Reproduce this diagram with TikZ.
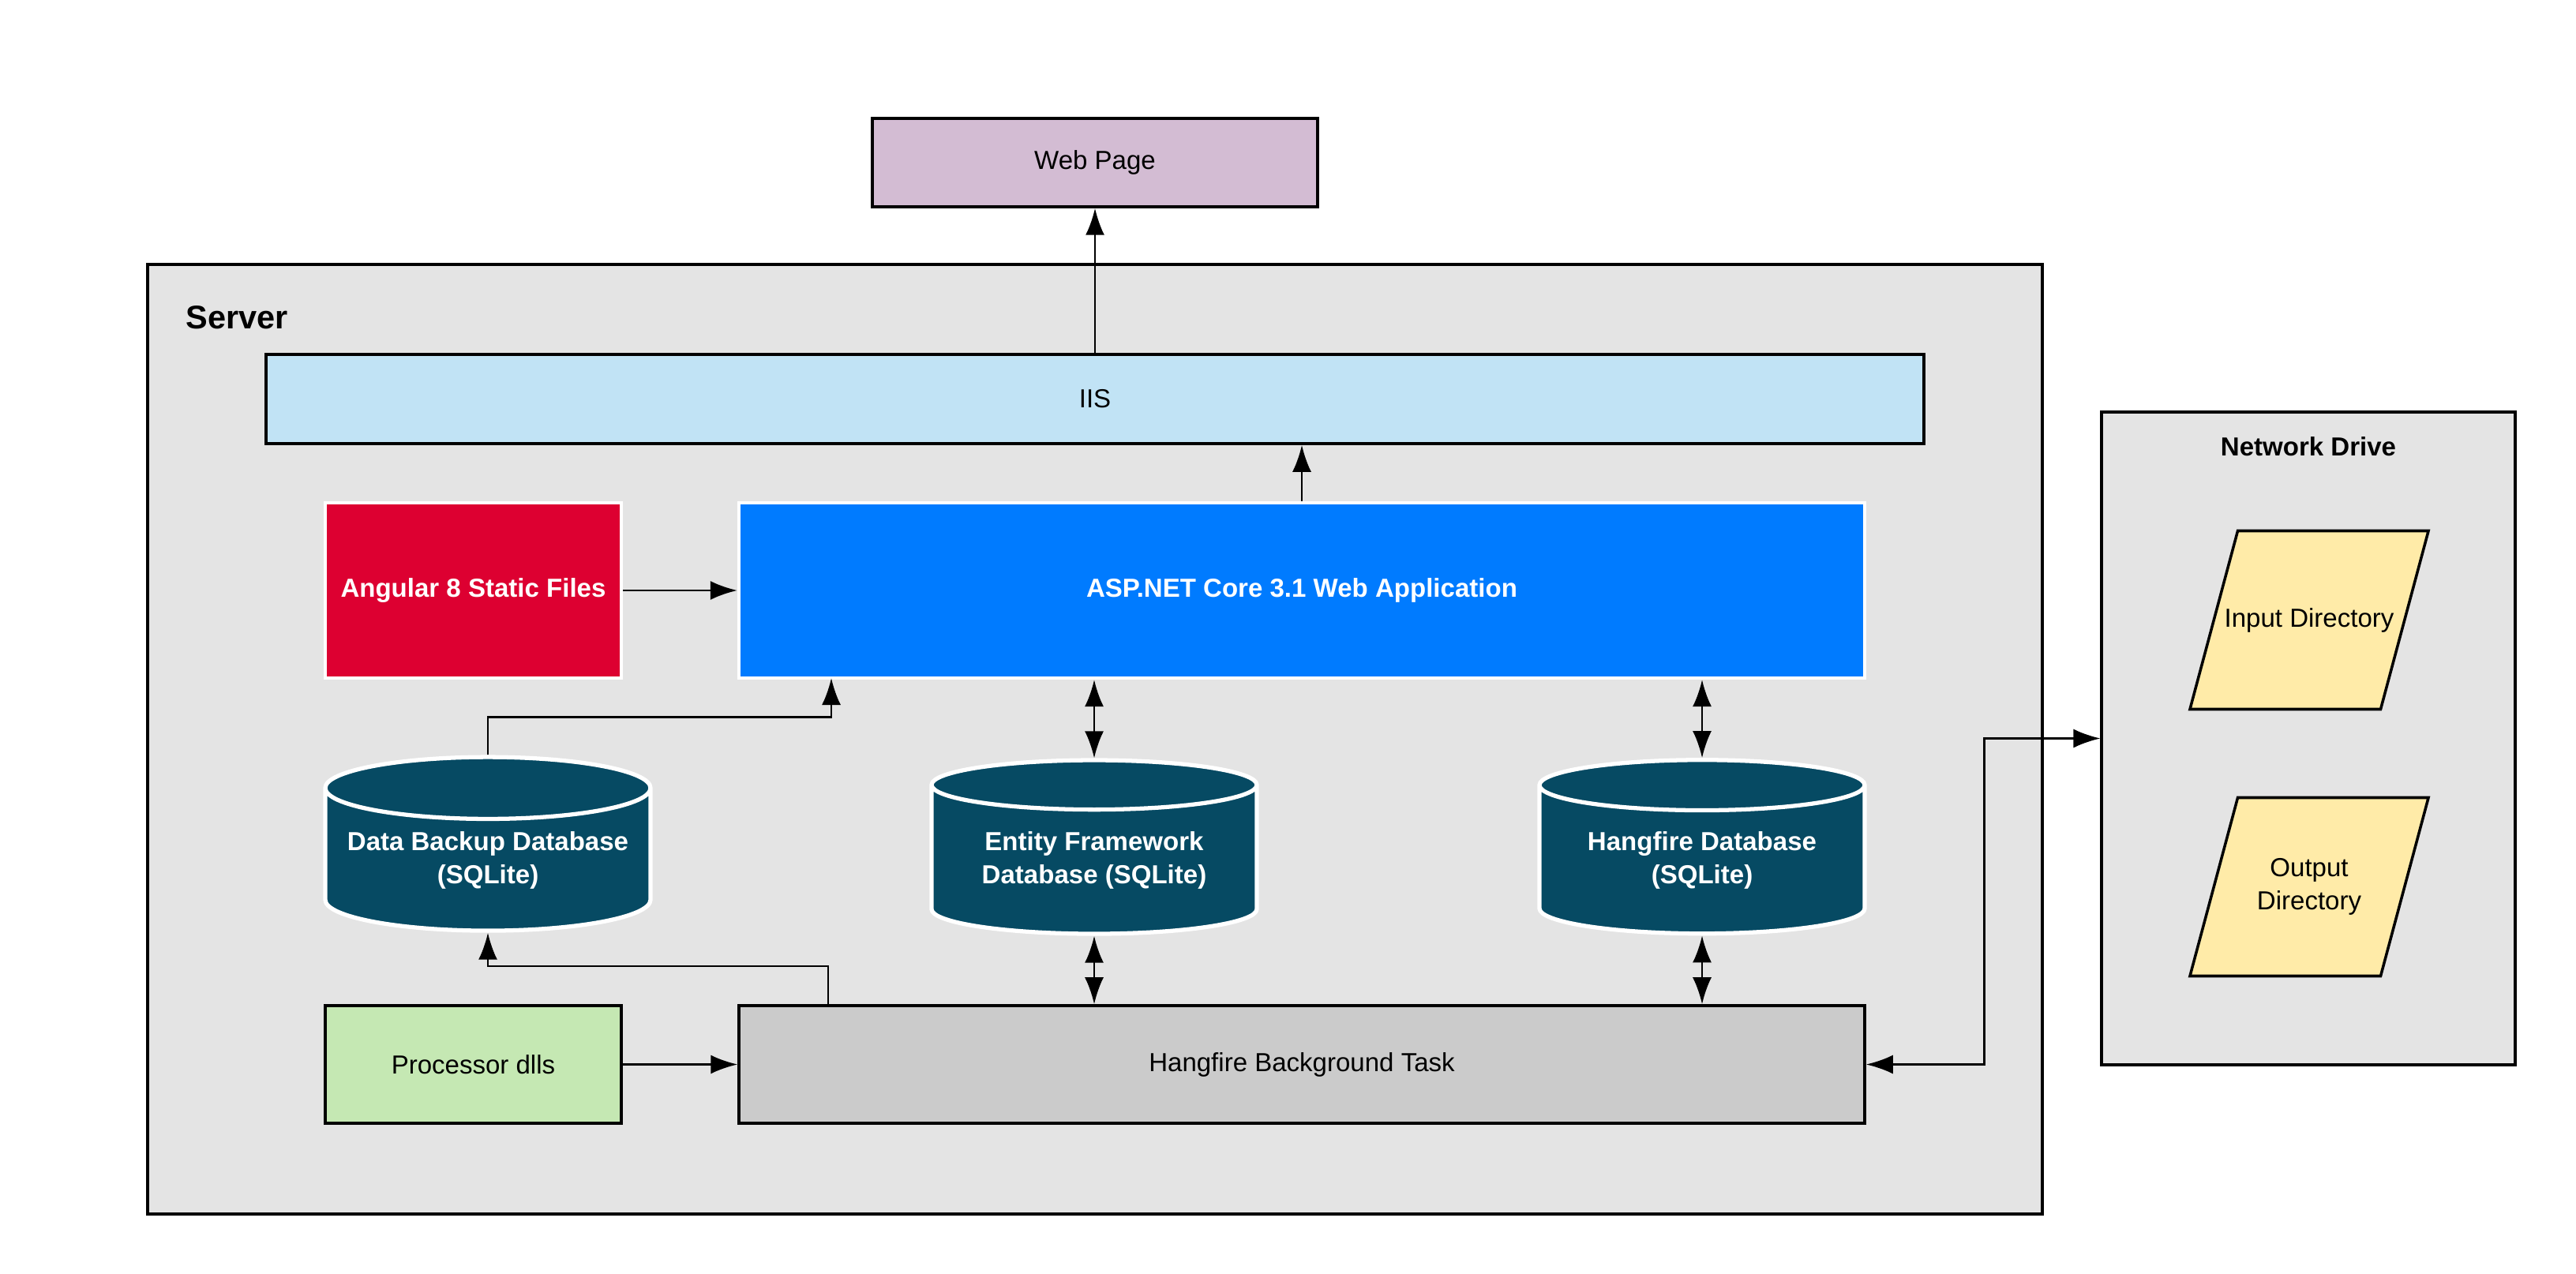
\documentclass[tikz,border=0pt]{standalone}
\usepackage{fontspec}
\setmainfont{Liberation Sans}
\usepackage{xcolor}
\usepackage{tikz}
\usetikzlibrary{shapes.geometric,arrows.meta}

\definecolor{webfill}{HTML}{D3BCD3}
\definecolor{iisfill}{HTML}{C1E3F5}
\definecolor{angularred}{HTML}{DD0031}
\definecolor{aspblue}{HTML}{007BFF}
\definecolor{dbteal}{HTML}{064A63}
\definecolor{dllfill}{HTML}{C5E8B3}
\definecolor{taskfill}{HTML}{CBCBCB}
\definecolor{groupfill}{HTML}{E4E4E4}
\definecolor{dirfill}{HTML}{FFEBA8}

% text block of a directory parallelogram
\newcommand{\dirtext}[1]{\parbox[c][2.26cm][c]{1.81cm}{\centering #1}}

\tikzset{
    txt/.style={font=\fontsize{9.4}{11.8}\selectfont},
    group/.style={draw=black, line width=0.9pt, fill=groupfill, inner sep=0pt},
    box/.style={txt, draw=black, line width=1pt, align=center, inner sep=0pt},
    solidbox/.style={txt, draw=white, line width=1.2pt, text=white, align=center, inner sep=0pt, font=\fontsize{9.4}{11.8}\selectfont\bfseries},
    db/.style={cylinder, shape border rotate=90, aspect=0.22, draw=white, line width=1.5pt,
        cylinder uses custom fill, cylinder body fill=dbteal, cylinder end fill=dbteal,
        text=white, align=center, inner sep=0pt, minimum width=4.12cm, minimum height=2.2cm,
        font=\fontsize{9.4}{11.8}\selectfont\bfseries},
    folder/.style={txt, trapezium, trapezium left angle=75, trapezium right angle=105,
        draw=black, line width=1pt, fill=dirfill, inner sep=0pt},
    link/.style={line width=0.8pt, -{Latex[length=3.4mm,width=2.4mm]}},
    twoway/.style={line width=0.8pt, {Latex[length=3.4mm,width=2.4mm]}-{Latex[length=3.4mm,width=2.4mm]}},
}

\begin{document}
\begin{tikzpicture}
    \useasboundingbox (0,0) rectangle (32.63,16.13);

    % Groups
    \node[group, minimum width=24cm, minimum height=12.03cm] (server) at (13.87,6.765) {};
    \node[anchor=west, inner sep=0pt, font=\fontsize{11.8}{14}\selectfont\bfseries] (serverlabel) at (2.35,12.11) {Server};
    \node[group, minimum width=5.24cm, minimum height=8.27cm] (drive) at (29.24,6.775) {};
    \node[txt, font=\fontsize{9.4}{11.8}\selectfont\bfseries] (drivelabel) at (29.24,10.47) {Network Drive};

    % Client side
    \node[box, fill=webfill, minimum width=5.64cm, minimum height=1.12cm] (web) at (13.87,14.07) {Web Page};
    \node[box, fill=iisfill, minimum width=21cm, minimum height=1.13cm] (iis) at (13.87,11.075) {IIS};

    % Application
    \node[solidbox, fill=angularred, minimum width=3.75cm, minimum height=2.22cm] (angular) at (5.995,8.65) {Angular 8 Static Files};
    \node[solidbox, fill=aspblue, minimum width=14.26cm, minimum height=2.22cm] (asp) at (16.49,8.65) {ASP.NET Core 3.1 Web Application};

    % Databases
    \node[db] (backup) at (6.18,5.23) {Data Backup Database\\(SQLite)};
    \node[db] (efdb) at (13.86,5.23) {Entity Framework\\Database (SQLite)};
    \node[db] (hfdb) at (21.56,5.23) {Hangfire Database\\(SQLite)};

    % Background work
    \node[box, fill=dllfill, minimum width=3.75cm, minimum height=1.49cm] (dlls) at (5.995,2.645) {Processor dlls};
    \node[box, fill=taskfill, minimum width=14.26cm, minimum height=1.49cm] (task) at (16.49,2.645) {Hangfire Background Task};

    % Directories
    \node[folder] (indir) at (29.25,8.275) {\dirtext{\makebox[1.81cm]{Input Directory}}};
    \node[folder] (outdir) at (29.25,4.895) {\dirtext{Output\\Directory}};

    % Connectors
    \draw[link] (iis.north -| web.south) -- (web.south);
    \draw[link] (asp.north) -- (iis.south -| asp.north);
    \draw[link] (angular.east) -- (asp.west);
    \coordinate (bkin) at (10.53,7.54);
    \draw[link] (backup.north) -- ++(0,0.48) -| (bkin);
    \draw[twoway] (asp.south -| efdb.north) -- (efdb.north);
    \draw[twoway] (asp.south -| hfdb.north) -- (hfdb.north);
    \draw[twoway] (efdb.south) -- (task.north -| efdb.south);
    \draw[twoway] (hfdb.south) -- (task.north -| hfdb.south);
    \coordinate (tkout) at (10.49,3.39);
    \draw[link] (tkout) -- ++(0,0.5) -| (backup.south);
    \draw[link] (dlls.east) -- (task.west);
    \draw[twoway] (task.east) -- ++(1.5,0) |- (drive.west);
\end{tikzpicture}
\end{document}
